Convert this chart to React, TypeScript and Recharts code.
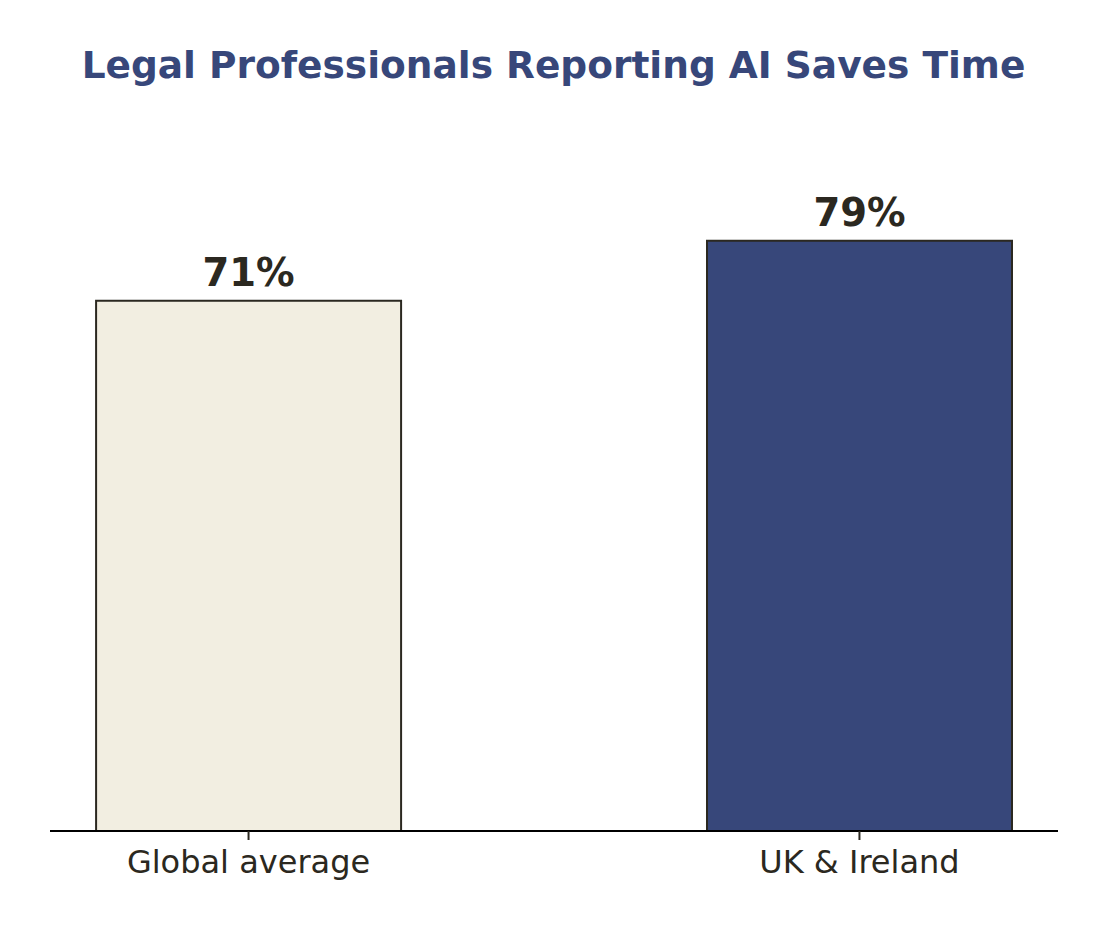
import { BarChart, Bar, Cell, XAxis, YAxis, LabelList } from "recharts";

const categories = ["Global average", "UK & Ireland"];
const values = [71, 79];

const fills = ["#f2eee1", "#37477a"];
const ink = "#2b2820";
const font = "DejaVu Sans, sans-serif";

const data = categories.map((name, i) => ({ x: i, name, value: values[i] }));

export default function App() {
  return (
    <div style={{ position: "relative", marginLeft: -8, marginTop: -8, width: 1107, height: 931 }}>
      <div
        style={{
          position: "absolute",
          top: 47,
          left: 0,
          width: 1107,
          textAlign: "center",
          fontFamily: font,
          fontWeight: "bold",
          fontSize: 37.5,
          lineHeight: "37.5px",
          color: "#37477a",
        }}
      >
        Legal Professionals Reporting AI Saves Time
      </div>
      <BarChart
        width={1107}
        height={931}
        data={data}
        margin={{ top: 84, right: 49, bottom: 40, left: 50 }}
      >
        <XAxis
          dataKey="x"
          type="number"
          domain={[-0.325, 1.325]}
          ticks={[0, 1]}
          tickFormatter={(i) => categories[i]}
          height={60}
          axisLine={{ stroke: "#000", strokeWidth: 2 }}
          tickLine={{ stroke: ink, strokeWidth: 2 }}
          tickSize={9}
          tickMargin={10}
          tick={{ fontSize: 32, fill: ink, fontFamily: font }}
        />
        <YAxis hide domain={[0, 100]} />
        <Bar dataKey="value" barSize={305} stroke={ink} strokeWidth={2} isAnimationActive={false}>
          {data.map((d, i) => (
            <Cell key={d.name} fill={fills[i]} />
          ))}
          <LabelList
            dataKey="value"
            position="top"
            offset={15}
            formatter={(v) => `${v}%`}
            style={{ fontSize: 38.5, fontWeight: "bold", fill: ink, fontFamily: font }}
          />
        </Bar>
      </BarChart>
    </div>
  );
}
